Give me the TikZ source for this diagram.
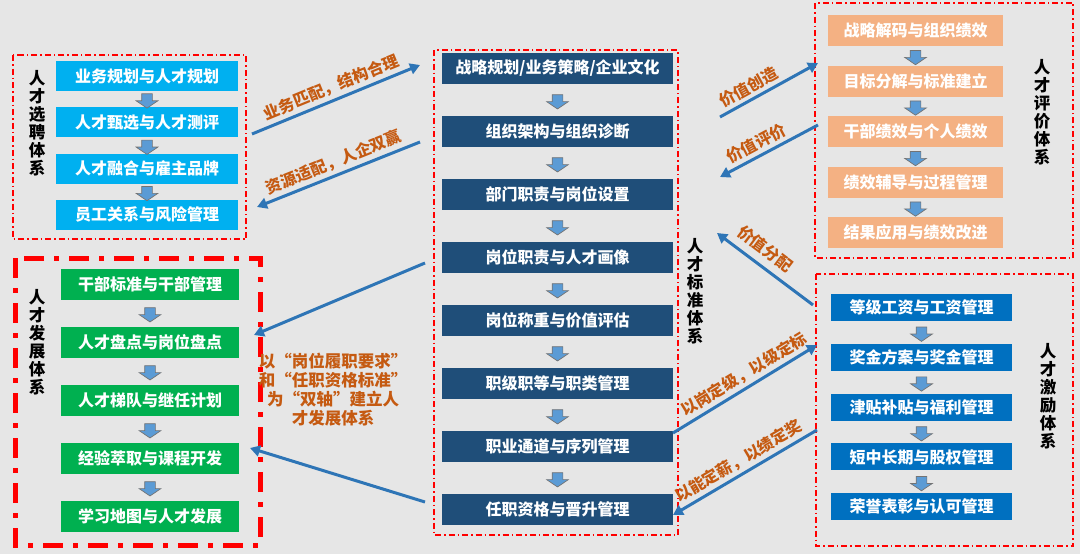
\documentclass[tikz,border=0pt]{standalone}
\usepackage{fontspec}
\setmainfont{Noto Sans CJK SC}
\usepackage{tikz}
\usetikzlibrary{arrows.meta,shapes.arrows,calc}
\definecolor{bgGray}{RGB}{230,230,230}
\definecolor{selCyan}{RGB}{0,176,240}
\definecolor{devGreen}{RGB}{0,176,80}
\definecolor{stdNavy}{RGB}{31,78,121}
\definecolor{evalOrange}{RGB}{244,177,131}
\definecolor{incBlue}{RGB}{0,112,192}
\definecolor{linkBlue}{RGB}{46,117,182}
\definecolor{noteOrange}{RGB}{197,90,17}
\definecolor{stepBlue}{RGB}{91,155,213}

\begin{document}
\begin{tikzpicture}[x=1pt,y=-1pt,
    box/.style={rectangle, inner sep=0pt, text=white, font=\bfseries\fontsize{16}{16}\selectfont},
    downarrow/.style={single arrow, shape border rotate=270, draw=black!55, fill=stepBlue, line width=0.7pt,
        inner sep=5pt, minimum height=14pt, single arrow head extend=5.5pt, single arrow tip angle=112},
    frame/.style={draw=red, line width=1.5pt, dash pattern=on 6pt off 3pt on 1.5pt off 3pt},
    boldframe/.style={draw=red, line width=5pt, dash pattern=on 20pt off 10pt on 5pt off 10pt},
    sysname/.style={align=center, font=\bfseries\fontsize{16.5}{18}\selectfont},
    link/.style={draw=linkBlue, line width=3pt, -{Triangle[length=10pt,width=11pt]}},
    linklabel/.style={text=noteOrange, font=\bfseries\fontsize{16}{16}\selectfont, sloped, above}]

    \fill[bgGray] (0,0) rectangle (1080,554);
    \useasboundingbox (0,0) rectangle (1080,554);

    % frames
    \draw[frame] (13,55) rectangle (246,239);
    \draw[boldframe] (15,258) rectangle (260,545);
    \draw[frame] (434,50) rectangle (678,535);
    \draw[frame] (815,3) rectangle (1073,258);
    \draw[frame] (816,274) rectangle (1073,546);

    % talent selection
    \foreach \t [count=\i] in {业务规划与人才规划,人才甄选与人才测评,人才融合与雇主品牌,员工关系与风险管理}
        \node[box, fill=selCyan, minimum width=182pt, minimum height=30pt] (sel\i) at (147,{76+46.3*(\i-1)}) {\t};
    \foreach \i [evaluate=\i as \j using int(\i+1)] in {1,...,3}
        \node[downarrow] (selarr\i) at ($(sel\i.south)!0.5!(sel\j.north)$) {};
    \node[sysname] (selname) at (37,123) {人\\才\\选\\聘\\体\\系};

    % talent development
    \foreach \t [count=\i] in {干部标准与干部管理,人才盘点与岗位盘点,人才梯队与继任计划,经验萃取与课程开发,学习地图与人才发展}
        \node[box, fill=devGreen, minimum width=178pt, minimum height=31pt] (dev\i) at (150,{284+58*(\i-1)}) {\t};
    \foreach \i [evaluate=\i as \j using int(\i+1)] in {1,...,4}
        \node[downarrow] (devarr\i) at ($(dev\i.south)!0.5!(dev\j.north)$) {};
    \node[sysname] (devname) at (37,342) {人\\才\\发\\展\\体\\系};
    \node[text=noteOrange, align=center, font=\bfseries\fontsize{16.5}{19}\selectfont] (devnote) at (333,390)
        {以“岗位履职要求”\\和“任职资格标准”\\为“双轴”建立人\\才发展体系};

    % talent standard
    \foreach \t [count=\i] in {战略规划/业务策略/企业文化,组织架构与组织诊断,部门职责与岗位设置,岗位职责与人才画像,岗位称重与价值评估,职级职等与职类管理,职业通道与序列管理,任职资格与晋升管理}
        \node[box, fill=stdNavy, minimum width=231pt, minimum height=31pt] (std\i) at (557.5,{68.5+63*(\i-1)}) {\t};
    \foreach \i [evaluate=\i as \j using int(\i+1)] in {1,...,7}
        \node[downarrow] (stdarr\i) at ($(std\i.south)!0.5!(std\j.north)$) {};
    \node[sysname] (stdname) at (695,291) {人\\才\\标\\准\\体\\系};

    % talent evaluation
    \foreach \t [count=\i] in {战略解码与组织绩效,目标分解与标准建立,干部绩效与个人绩效,绩效辅导与过程管理,结果应用与绩效改进}
        \node[box, fill=evalOrange, minimum width=175pt, minimum height=31pt] (eval\i) at (915.5,{30.5+50.5*(\i-1)}) {\t};
    \foreach \i [evaluate=\i as \j using int(\i+1)] in {1,...,4}
        \node[downarrow] (evalarr\i) at ($(eval\i.south)!0.5!(eval\j.north)$) {};
    \node[sysname] (evalname) at (1042,112) {人\\才\\评\\价\\体\\系};

    % talent incentive
    \foreach \t [count=\i] in {等级工资与工资管理,奖金方案与奖金管理,津贴补贴与福利管理,短中长期与股权管理,荣誉表彰与认可管理}
        \node[box, fill=incBlue, minimum width=181pt, minimum height=27pt] (inc\i) at (921.5,{307.5+49.8*(\i-1)}) {\t};
    \foreach \i [evaluate=\i as \j using int(\i+1)] in {1,...,4}
        \node[downarrow] (incarr\i) at ($(inc\i.south)!0.5!(inc\j.north)$) {};
    \node[sysname] (incname) at (1048,396) {人\\才\\激\\励\\体\\系};

    % connectors
    \coordinate (l1a) at (252,134);  \coordinate (l1b) at (420,65);
    \coordinate (l2a) at (420,142);  \coordinate (l2b) at (257,207);
    \coordinate (l3a) at (425,263);  \coordinate (l3b) at (254,335);
    \coordinate (l4a) at (425,502);  \coordinate (l4b) at (250,448);
    \coordinate (l5a) at (720,117);  \coordinate (l5b) at (818,63);
    \coordinate (l6a) at (818,125);  \coordinate (l6b) at (720,177);
    \coordinate (l7a) at (813,305);  \coordinate (l7b) at (717,233);
    \coordinate (l8a) at (673,433);  \coordinate (l8b) at (817,345);
    \coordinate (l9a) at (817,430);  \coordinate (l9b) at (673,515);

    \draw[link] (l1a) -- node[linklabel] (lab1) {业务匹配，结构合理} (l1b);
    \draw[link] (l2a) -- node[linklabel] (lab2) {资源适配，人企双赢} (l2b);
    \draw[link] (l3a) -- (l3b);
    \draw[link] (l4a) -- (l4b);
    \draw[link] (l5a) -- node[linklabel, pos=0.35] (lab5) {价值创造} (l5b);
    \draw[link] (l6a) -- node[linklabel, pos=0.57] (lab6) {价值评价} (l6b);
    \draw[link] (l7a) -- node[linklabel, pos=0.6, yshift=4pt] (lab7) {价值分配} (l7b);
    \draw[link] (l8a) -- node[linklabel, pos=0.54] (lab8) {以岗定级，以级定标} (l8b);
    \draw[link] (l9a) -- node[linklabel] (lab9) {以能定薪，以绩定奖} (l9b);
\end{tikzpicture}
\end{document}
